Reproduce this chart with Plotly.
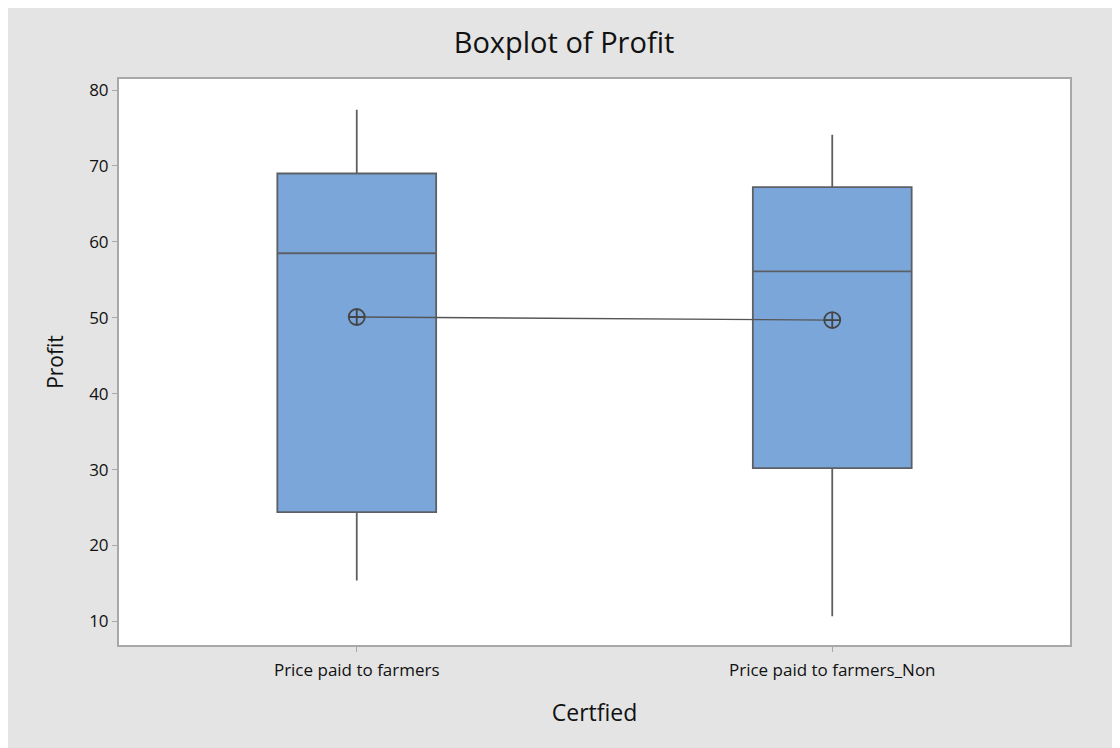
import plotly.graph_objects as go

categories = ["Price paid to farmers", "Price paid to farmers_Non"]
q1_vals = [24.4, 30.2]
median_vals = [58.5, 56.1]
q3_vals = [69.0, 67.2]
lower_whisker = [15.4, 10.7]
upper_whisker = [77.4, 74.1]
mean_vals = [50.1, 49.7]
y_ticks = [10, 20, 30, 40, 50, 60, 70, 80]

FONT = "Open Sans, Noto Sans, DejaVu Sans, sans-serif"

fig = go.Figure()
fig.add_trace(go.Box(
    x=categories,
    q1=q1_vals, median=median_vals, q3=q3_vals,
    lowerfence=lower_whisker, upperfence=upper_whisker,
    fillcolor="#7ba6d9",
    line=dict(color="#5c6066", width=1.8),
    whiskerwidth=0,
    width=0.334,
    boxpoints=False,
    showlegend=False,
    hoverinfo="skip",
))
fig.add_trace(go.Scatter(
    x=categories, y=mean_vals,
    mode="lines+markers",
    line=dict(color="#555555", width=1.3),
    marker=dict(symbol="circle-cross-open", size=16, color="#444444", line=dict(width=1.8)),
    showlegend=False,
    hoverinfo="skip",
))

fig.update_layout(
    width=1112, height=740,
    paper_bgcolor="#e4e4e4",
    plot_bgcolor="#ffffff",
    margin=dict(l=111, r=50, t=71, b=103),
    title=dict(text="Boxplot of Profit", x=0.5, xanchor="center", y=0.953, yanchor="middle",
               font=dict(family=FONT, size=29, color="#111111")),
    font=dict(family=FONT, color="#111111"),
)
fig.update_xaxes(
    type="category", range=[-0.5, 1.5],
    showgrid=False, zeroline=False,
    showline=True, linecolor="#a8a8a8", linewidth=2, mirror=True,
    ticks="outside", ticklen=5, tickcolor="#a8a8a8",
    ticklabelstandoff=4,
    tickfont=dict(family=FONT, size=17, color="#111111"),
    title=dict(text="Certfied", font=dict(family=FONT, size=23, color="#111111"), standoff=24),
)
fig.update_yaxes(
    range=[6.9, 81.45],
    tickvals=y_ticks,
    showgrid=False, zeroline=False,
    showline=True, linecolor="#a8a8a8", linewidth=2, mirror=True,
    ticks="outside", ticklen=5, tickcolor="#a8a8a8",
    tickfont=dict(family=FONT, size=17, color="#111111"),
    title=dict(text="Profit", font=dict(family=FONT, size=21, color="#111111"), standoff=20),
)

fig.write_html("out.html")
